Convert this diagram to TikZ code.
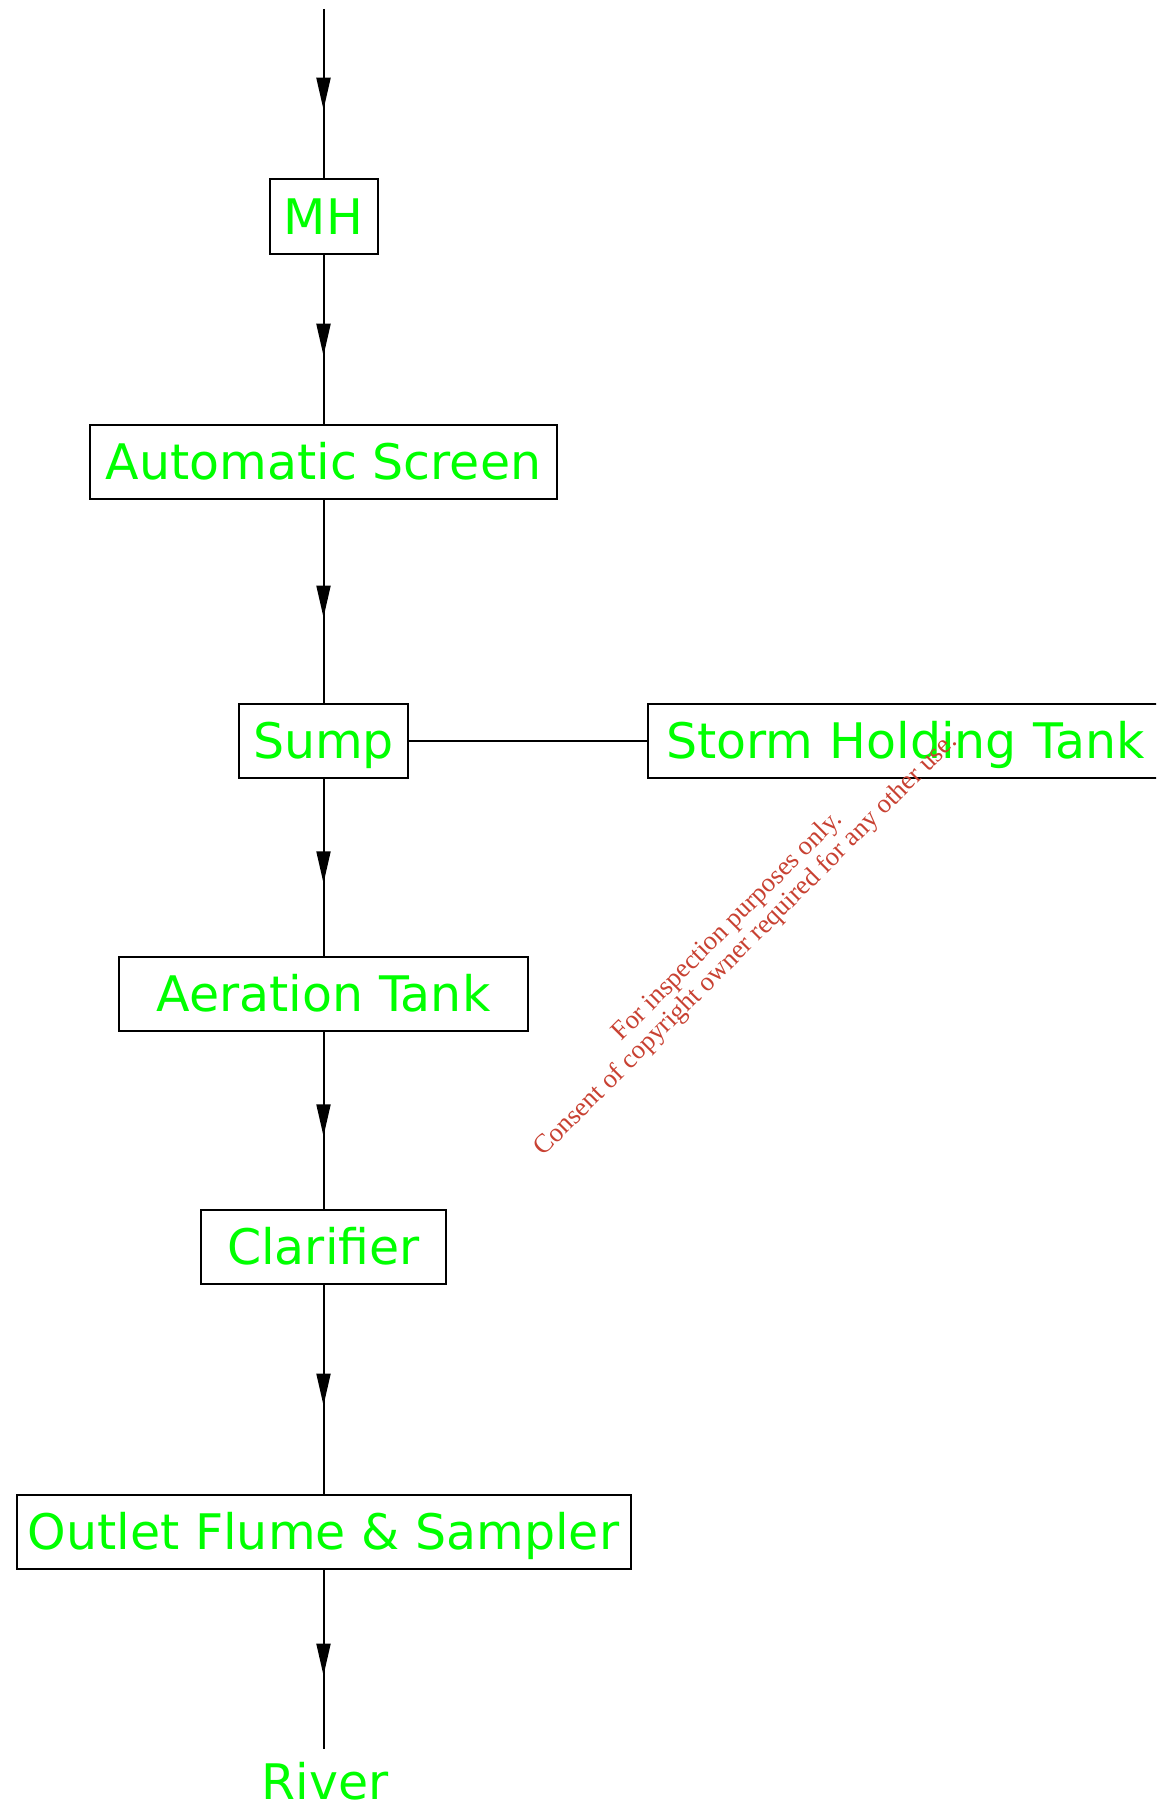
\documentclass[tikz,border=0pt]{standalone}
\usepackage{fontspec}
\setmainfont{DejaVu Sans}
\newfontfamily\wmfont{Liberation Serif}
\usetikzlibrary{arrows.meta,decorations.markings}
\definecolor{labelgreen}{RGB}{0,255,0}
\definecolor{wmred}{RGB}{200,65,50}
\begin{document}
\begin{tikzpicture}[x=0.5pt,y=-0.5pt,
  lbl/.style={text=labelgreen, font=\fontsize{24.5}{29}\selectfont, text height=17.9pt, text depth=0pt},
  box/.style={lbl, draw=black, line width=1pt, inner sep=0pt, minimum height=37pt},
  flow/.style={line width=1pt, postaction={decorate},
    decoration={markings, mark=at position 0.5 with {\arrow[xshift=8pt]{Triangle[length=16pt,width=7pt]}}}},
  link/.style={line width=1pt}]
\path[use as bounding box, clip] (0,0) rectangle (1156,1808);
\coordinate (start) at (323.5,9);
\node[box, minimum width=54pt, minimum height=37.5pt] (mh) at (323.5,217) {MH};
\node[box, minimum width=233.5pt] (screen) at (323.5,462) {Automatic Screen};
\node[box, minimum width=84.5pt] (sump) at (323.5,741) {Sump};
\node[box, anchor=west, text width=262pt, align=left, inner xsep=9pt] (storm) at (647,741) {Storm Holding Tank};
\node[box, minimum width=204.5pt] (aer) at (323.5,993.5) {Aeration Tank};
\node[box, minimum width=122.5pt] (clar) at (323.5,1247) {Clarifier};
\node[box, minimum width=307pt] (out) at (323.5,1532) {Outlet Flume \& Sampler};
\node[lbl, anchor=north, inner ysep=7pt, inner xsep=0pt] (river) at (325,1749) {River};
\draw[flow] (start) -- (mh);
\draw[flow] (mh) -- (screen);
\draw[flow] (screen) -- (sump);
\draw[link] (sump) -- (storm);
\draw[flow] (sump) -- (aer);
\draw[flow] (aer) -- (clar);
\draw[flow] (clar) -- (out);
\draw[flow] (out) -- (river.north -| out.south);
\node[rotate=45, text=wmred, font=\wmfont\fontsize{13.3}{13.1}\selectfont, align=center] (wm) at (737,936)
  {For inspection purposes only.\\Consent of copyright owner required for any other use.};
\end{tikzpicture}
\end{document}
